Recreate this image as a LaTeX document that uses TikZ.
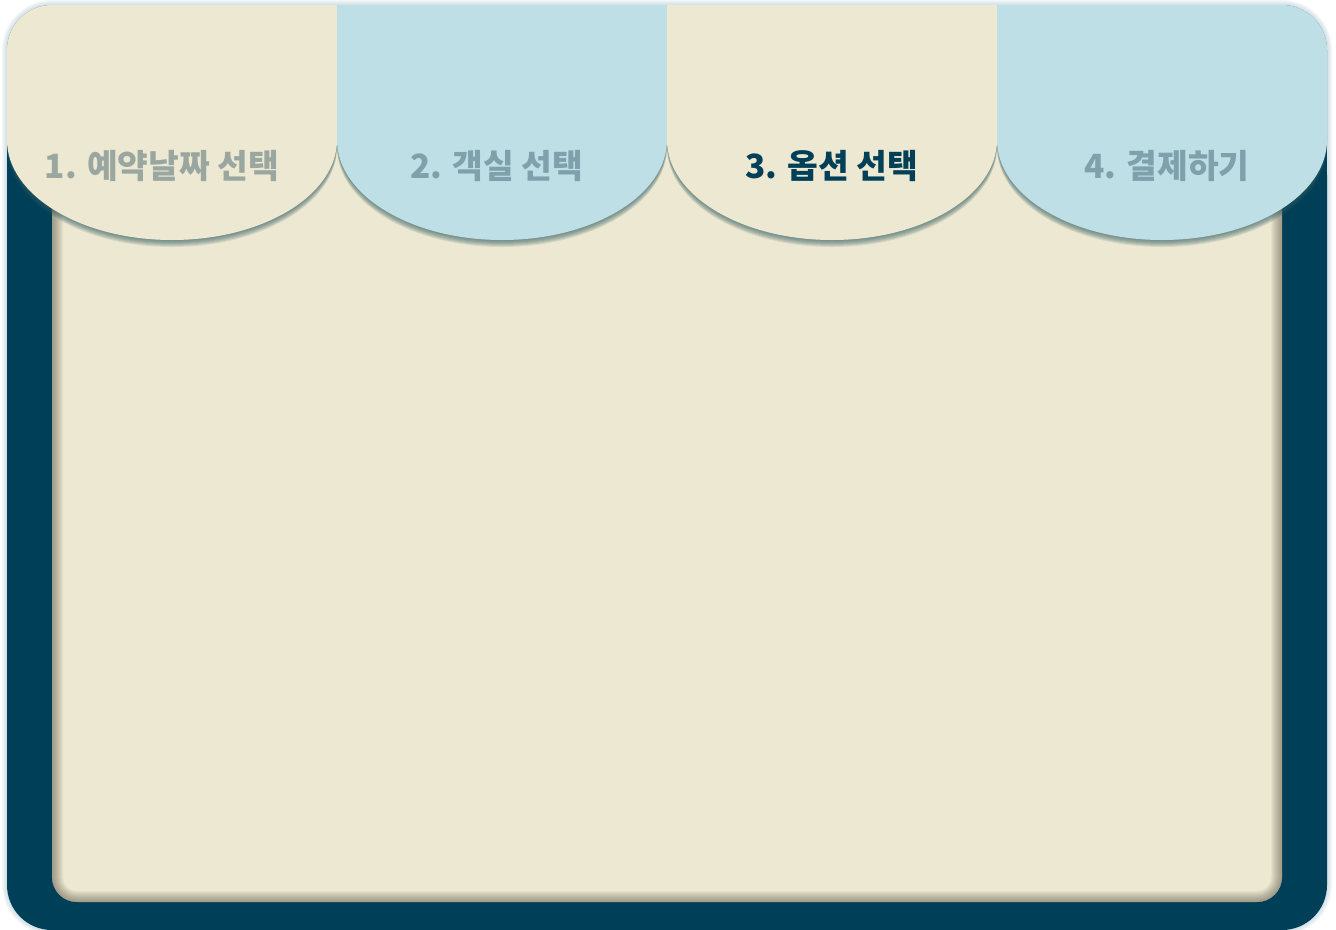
\documentclass[tikz,border=0pt]{standalone}
\usepackage{fontspec}
\newfontfamily\kr{Noto Sans CJK KR}

\definecolor{cream}{HTML}{EDE8D1}
\definecolor{sky}{HTML}{BDDFE5}
\definecolor{navy}{HTML}{003F58}
\definecolor{stonetext}{HTML}{9AA7A1}
\definecolor{skytext}{HTML}{7EA1AB}
\definecolor{tabshade}{HTML}{2F5C62}
\definecolor{panelshade}{HTML}{4A4636}
\definecolor{glow}{HTML}{A9C3CF}

\begin{document}
\begin{tikzpicture}[x=0.02cm, y=-0.02cm,
    tabtext/.style={font=\kr\bfseries\fontsize{19pt}{19pt}\selectfont, inner sep=0pt},
    tabpath/.style={insert path={(#1,-50) -- (#1,140)
        .. controls (#1,195.2) and (#1+73.9,240) .. (#1+165,240)
        .. controls (#1+256.1,240) and (#1+330,195.2) .. (#1+330,140)
        -- (#1+330,-50) -- cycle}}]

    \useasboundingbox (0,0) rectangle (1336,930);

    % faint glow round the card
    \foreach \w in {2,4,6,8,10}
        \draw[glow, opacity=0.12, line width=\w*0.02cm, rounded corners=0.9cm] (7,5) rectangle (1327,930);

    % dark frame
    \fill[navy, rounded corners=0.9cm] (7,130) rectangle (1327,930);
    \fill[navy] (7,130) rectangle (1327,300);

    % cream panel and its inner shadow
    \fill[cream, rounded corners=0.5cm] (52,120) rectangle (1282,902);
    \begin{scope}
        \clip[rounded corners=0.5cm] (52,120) rectangle (1282,902);
        \foreach \w in {2,4,...,22}
            \draw[line width=\w*0.02cm, panelshade, opacity=0.05, rounded corners=0.5cm]
                (52,120) rectangle (1282,902);
    \end{scope}

    % tabs, shadows first
    \begin{scope}
        \clip[rounded corners=0.9cm] (7,5) rectangle (1327,600);
        \foreach \x in {7,337,667,997}
            \foreach \d in {1,...,7}
                \fill[tabshade, opacity=0.12, shift={(0,\d)}] [tabpath=\x];
        \foreach \x/\col in {7/cream, 337/sky, 667/cream, 997/sky}
            \fill[\col] [tabpath=\x];
    \end{scope}

    % tab labels
    \node[tabtext, text=stonetext] (tab1) at (162,166) {1. 예약날짜 선택};
    \node[tabtext, text=skytext] (tab2) at (497,166) {2. 객실 선택};
    \node[tabtext, text=navy] (tab3) at (832,166) {3. 옵션 선택};
    \node[tabtext, text=skytext] (tab4) at (1167,166) {4. 결제하기};
\end{tikzpicture}
\end{document}
